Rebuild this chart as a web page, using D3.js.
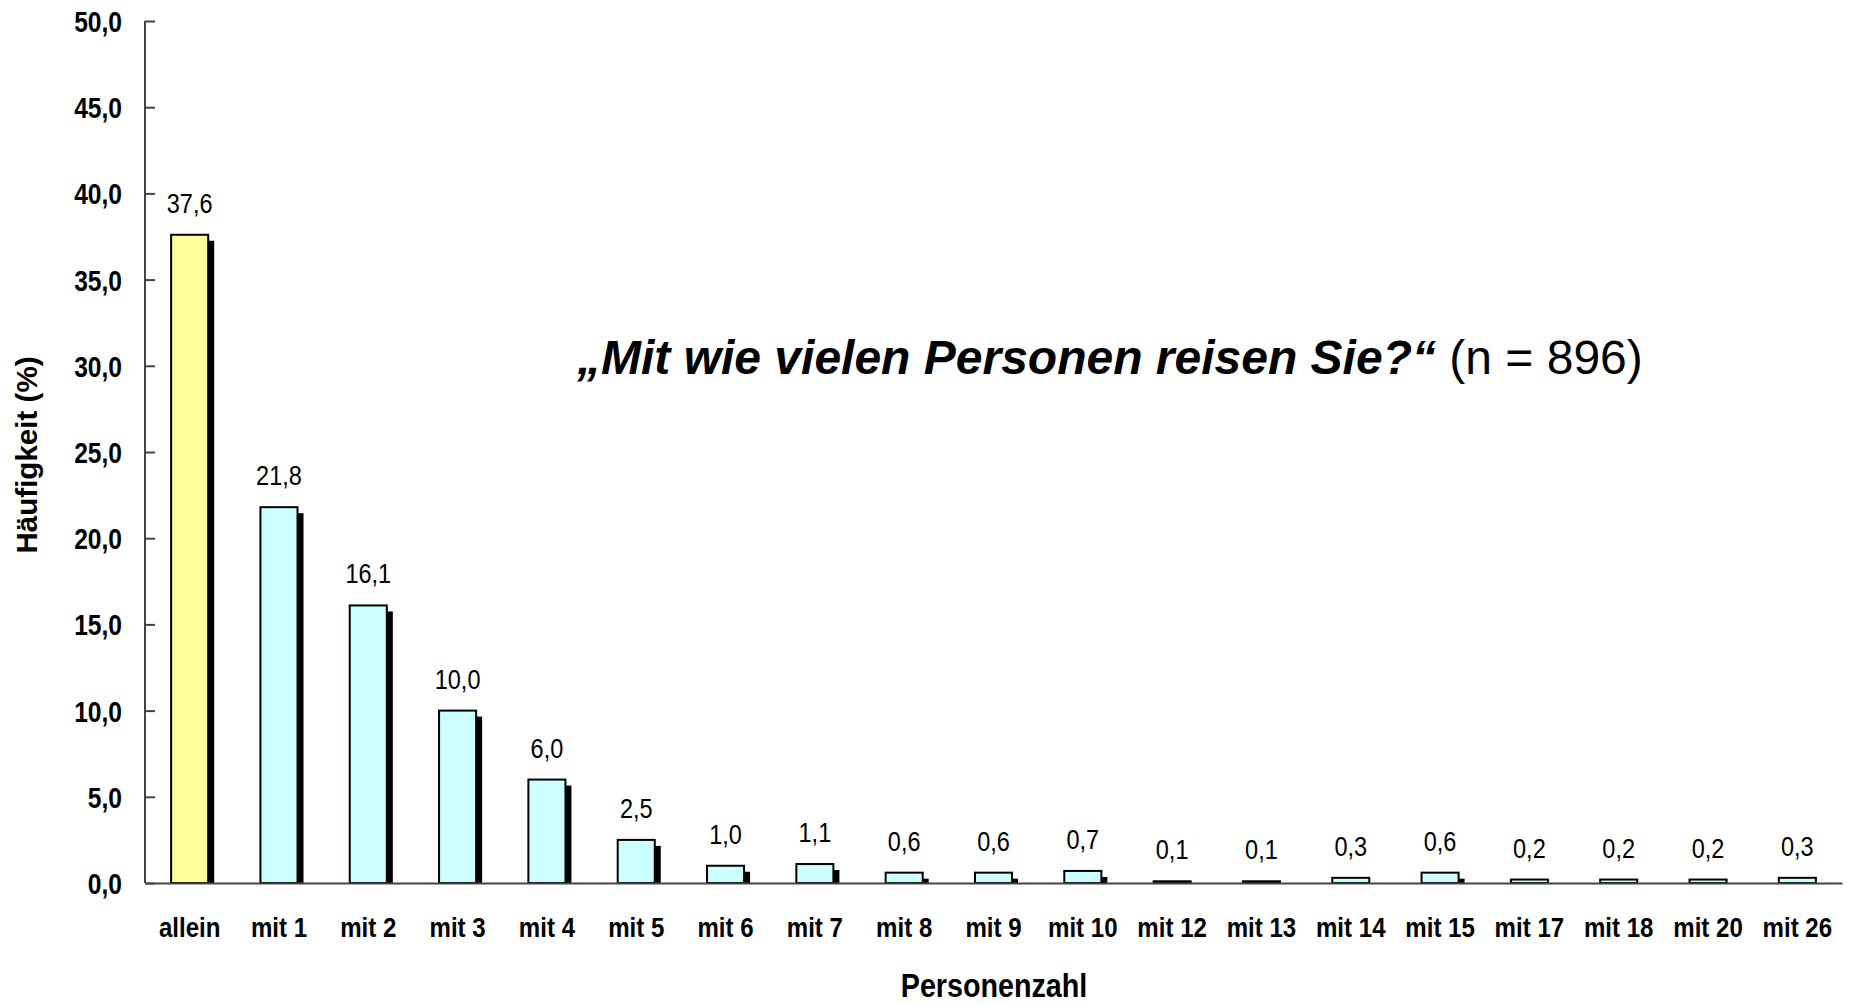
<!DOCTYPE html>
<html>
<head>
<meta charset="utf-8">
<script src="https://cdn.jsdelivr.net/npm/d3@7"></script>
<style>
    body { margin: 0; background: #fff; }
    svg text { font-family: "Liberation Sans", Arial, sans-serif; fill: #000; }
</style>
</head>
<body>
<svg id="chart" width="1854" height="1004"></svg>
<script>
// data
const categories = ["allein", "mit 1", "mit 2", "mit 3", "mit 4", "mit 5", "mit 6", "mit 7", "mit 8", "mit 9",
    "mit 10", "mit 12", "mit 13", "mit 14", "mit 15", "mit 17", "mit 18", "mit 20", "mit 26"];
const values = [37.6, 21.8, 16.1, 10.0, 6.0, 2.5, 1.0, 1.1, 0.6, 0.6, 0.7, 0.1, 0.1, 0.3, 0.6, 0.2, 0.2, 0.2, 0.3];
const yTicks = [0, 5, 10, 15, 20, 25, 30, 35, 40, 45, 50];

const svg = d3.select("#chart");
const margin = { left: 145, top: 21, right: 12, bottom: 121 };
const width = 1854 - margin.left - margin.right,
    height = 1004 - margin.top - margin.bottom;

// number format with comma
const fmt = (d) => d.toFixed(1).replace(".", ",");

// condensed look: squeeze text horizontally around its anchor
const squeeze = (x, y, sx) => "translate(" + x + "," + y + ")scale(" + sx + ",1)";

const x = d3.scaleBand().domain(categories).range([0, width]).paddingInner(0.585).paddingOuter(0.2925);
const y = d3.scaleLinear().domain([0, 50]).range([height, 0]);

const g = svg.append("g").attr("transform", "translate(" + margin.left + "," + margin.top + ")");

// shadows
g.selectAll(".shadow")
    .data(values)
    .enter()
    .append("rect")
    .attr("x", (d, i) => x(categories[i]) + 6)
    .attr("y", (d) => Math.min(y(d) + 6, height))
    .attr("width", x.bandwidth())
    .attr("height", (d) => Math.max(height - y(d) - 6, 0))
    .style("fill", "#000");

// bars
g.selectAll(".bar")
    .data(values)
    .enter()
    .append("rect")
    .attr("class", "bar")
    .attr("x", (d, i) => x(categories[i]))
    .attr("y", (d) => y(d))
    .attr("width", x.bandwidth())
    .attr("height", (d) => height - y(d))
    .style("fill", (d, i) => (i == 0 ? "#FFFF99" : "#CCFFFF"))
    .style("stroke", "#000")
    .style("stroke-width", 2);

// value labels
g.selectAll(".val")
    .data(values)
    .enter()
    .append("text")
    .attr("transform", (d, i) => squeeze(x(categories[i]) + x.bandwidth() / 2, y(d) - 22, 0.84))
    .attr("text-anchor", "middle")
    .style("font-size", "28px")
    .text((d) => fmt(d));

// y axis (ticks inside)
const yAxis = g.append("g")
    .call(d3.axisRight(y).tickValues(yTicks).tickSize(10).tickFormat(""));
yAxis.select(".domain").attr("d", "M0," + height + "V0").style("stroke", "#444").style("stroke-width", 2);
yAxis.selectAll(".tick line").style("stroke", "#444").style("stroke-width", 2);

// y tick labels
g.selectAll(".ylab")
    .data(yTicks)
    .enter()
    .append("text")
    .attr("transform", (d) => squeeze(-23, y(d) + 11, 0.82))
    .attr("text-anchor", "end")
    .style("font-size", "30px")
    .style("font-weight", "bold")
    .text((d) => fmt(d));

// x axis
const xAxis = g.append("g")
    .attr("transform", "translate(0," + height + ")")
    .call(d3.axisBottom(x).tickSize(0).tickFormat(""));
xAxis.select(".domain").style("stroke", "#444").style("stroke-width", 2);

// category labels
g.selectAll(".xlab")
    .data(categories)
    .enter()
    .append("text")
    .attr("transform", (d) => squeeze(x(d) + x.bandwidth() / 2, height + 54, 0.86))
    .attr("text-anchor", "middle")
    .style("font-size", "28px")
    .style("font-weight", "bold")
    .text((d) => d);

// axis titles
svg.append("text")
    .attr("transform", squeeze(994, 997, 0.87))
    .attr("text-anchor", "middle")
    .style("font-size", "33px")
    .style("font-weight", "bold")
    .text("Personenzahl");

svg.append("text")
    .attr("transform", "translate(37,455)rotate(-90)scale(1.02,1)")
    .attr("text-anchor", "middle")
    .style("font-size", "29px")
    .style("font-weight", "bold")
    .text("Häufigkeit (%)");

// chart title
const title = svg.append("text")
    .attr("x", 577)
    .attr("y", 374)
    .style("font-size", "48px");
title.append("tspan")
    .style("font-weight", "bold")
    .style("font-style", "italic")
    .text("„Mit wie vielen Personen reisen Sie?“");
title.append("tspan").text(" (n = 896)");
</script>
</body>
</html>
